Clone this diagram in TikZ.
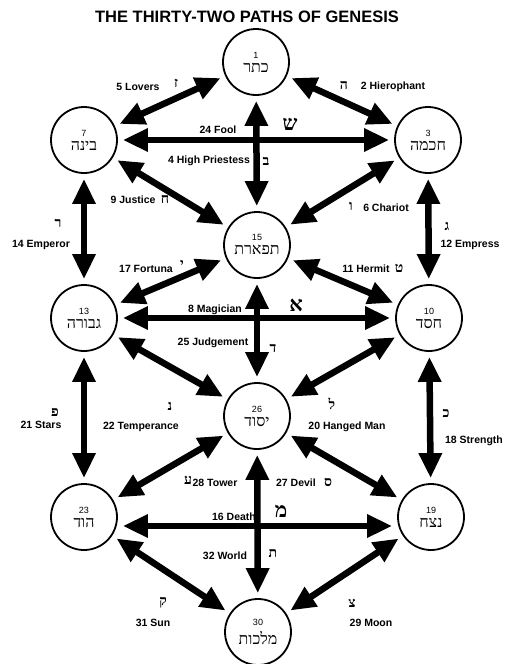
\documentclass[tikz,border=0pt]{standalone}
\usepackage{fontspec}
\setmainfont{Liberation Sans}
\newfontfamily\hebfont[Script=Hebrew]{Liberation Serif}
\TeXXeTstate=1
\usetikzlibrary{arrows.meta}

\newcommand{\heb}[1]{{\hebfont\beginR #1\endR}}
\newcommand{\sefword}[1]{{\hebfont\fontsize{16}{17}\selectfont\beginR #1\endR}}

\begin{document}
\begin{tikzpicture}[x=1pt, y=-1pt,
    sefira/.style={draw, circle, line width=1.8pt, minimum size=66pt, inner sep=0pt, align=center, font=\fontsize{9}{10}\selectfont},
    link/.style={line width=6.5pt, {Triangle[length=25pt,width=22pt]}-{Triangle[length=25pt,width=22pt]}, shorten <=5pt, shorten >=5pt},
    tarot/.style={font=\bfseries\fontsize{10.5}{12}\selectfont},
    letter/.style={font=\hebfont\bfseries\fontsize{14}{15}\selectfont},
    bigletter/.style={font=\hebfont\bfseries\fontsize{21}{22}\selectfont},
]
\useasboundingbox (0,0) rectangle (504,664);

% Title
\node[font=\bfseries\fontsize{16.5}{18}\selectfont] (title) at (247,17) {THE THIRTY-TWO PATHS OF GENESIS};

% Sefirot
\node[sefira] (keter)     at (256,62)  {1\\[4pt]\sefword{כתר}};
\node[sefira] (binah)     at (84,140)  {7\\[4pt]\sefword{בינה}};
\node[sefira] (chokmah)   at (428,140) {3\\[4pt]\sefword{חכמה}};
\node[sefira] (tiphareth) at (257,245) {15\\[4pt]\sefword{תפארת}};
\node[sefira] (geburah)   at (84,318)  {13\\[4pt]\sefword{גבורה}};
\node[sefira] (chesed)    at (429,318) {10\\[4pt]\sefword{חסד}};
\node[sefira] (yesod)     at (257,416) {26\\[4pt]\sefword{יסוד}};
\node[sefira] (hod)       at (84,517)  {23\\[4pt]\sefword{הוד}};
\node[sefira] (netzach)   at (431,517) {19\\[4pt]\sefword{נצח}};
\node[sefira] (malkuth)   at (258,632) {30\\[4pt]\sefword{מלכות}};

% Paths
\draw[link] (keter) -- (binah);
\draw[link] (keter) -- (chokmah);
\draw[link] (binah) -- (chokmah);
\draw[link] (keter) -- (tiphareth);
\draw[link] (binah) -- (tiphareth);
\draw[link] (chokmah) -- (tiphareth);
\draw[link] (binah) -- (geburah);
\draw[link] (chokmah) -- (chesed);
\draw[link] (tiphareth) -- (geburah);
\draw[link] (tiphareth) -- (chesed);
\draw[link] (geburah) -- (chesed);
\draw[link] (tiphareth) -- (yesod);
\draw[link] (geburah) -- (yesod);
\draw[link] (chesed) -- (yesod);
\draw[link] (geburah) -- (hod);
\draw[link] (chesed) -- (netzach);
\draw[link] (yesod) -- (hod);
\draw[link] (yesod) -- (netzach);
\draw[link] ([yshift=-9pt]hod.east) -- ([yshift=-9pt]netzach.west);
\draw[link] (yesod) -- (malkuth);
\draw[link] (hod) -- (malkuth);
\draw[link] (netzach) -- (malkuth);

% Path labels
\node[tarot] (lovers) at (138,87) {5 Lovers};
\node[letter] (lovers-l) at (176,83) {\heb{ז}};
\node[tarot] (hierophant) at (393,87) {2 Hierophant};
\node[letter] (hierophant-l) at (344,85) {\heb{ה}};
\node[tarot] (fool) at (218,130) {24 Fool};
\node[bigletter] (fool-l) at (290,124) {\heb{ש}};
\node[tarot] (priestess) at (209,161) {4 High Priestess};
\node[letter] (priestess-l) at (266,161) {\heb{ב}};
\node[tarot] (justice) at (133,200) {9 Justice};
\node[letter] (justice-l) at (165,199) {\heb{ח}};
\node[tarot] (chariot) at (386,208) {6 Chariot};
\node[letter] (chariot-l) at (351,206) {\heb{ו}};
\node[tarot] (emperor) at (41,245) {14 Emperor};
\node[letter] (emperor-l) at (58,223) {\heb{ר}};
\node[tarot] (empress) at (470,245) {12 Empress};
\node[letter] (empress-l) at (447,226) {\heb{ג}};
\node[tarot] (fortuna) at (146,269) {17 Fortuna};
\node[letter] (fortuna-l) at (182,264) {\heb{י}};
\node[tarot] (hermit) at (366,269) {11 Hermit};
\node[letter] (hermit-l) at (399,268) {\heb{ט}};
\node[tarot] (magician) at (215,310) {8 Magician};
\node[bigletter] (magician-l) at (296,305) {\heb{א}};
\node[tarot] (judgement) at (213,343) {25 Judgement};
\node[letter] (judgement-l) at (273,348) {\heb{ד}};
\node[tarot] (temperance) at (141,427) {22 Temperance};
\node[letter] (temperance-l) at (170,406) {\heb{נ}};
\node[tarot] (hanged) at (347,427) {20 Hanged Man};
\node[letter] (hanged-l) at (332,404) {\heb{ל}};
\node[tarot] (stars) at (41,425) {21 Stars};
\node[letter] (stars-l) at (55,412) {\heb{פ}};
\node[tarot] (strength) at (474,441) {18 Strength};
\node[letter] (strength-l) at (446,413) {\heb{כ}};
\node[tarot] (tower) at (215,483) {28 Tower};
\node[letter] (tower-l) at (188,480) {\heb{ע}};
\node[tarot] (devil) at (296,483) {27 Devil};
\node[letter] (devil-l) at (328,482) {\heb{ס}};
\node[tarot] (death) at (234,517) {16 Death};
\node[bigletter] (death-l) at (281,511) {\heb{מ}};
\node[tarot] (world) at (225,556) {32 World};
\node[letter] (world-l) at (273,553) {\heb{ת}};
\node[tarot] (sun) at (153,623) {31 Sun};
\node[letter] (sun-l) at (163,603) {\heb{ק}};
\node[tarot] (moon) at (371,623) {29 Moon};
\node[letter] (moon-l) at (352,603) {\heb{צ}};

\end{tikzpicture}
\end{document}
